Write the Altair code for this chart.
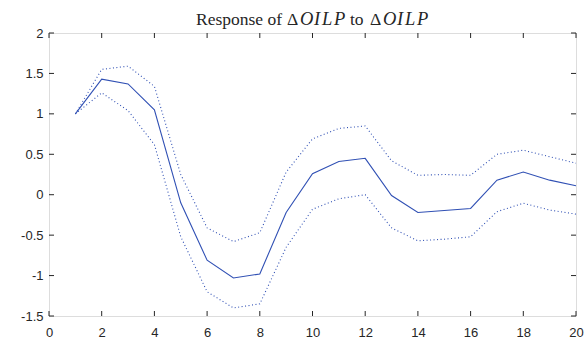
import altair as alt
import pandas as pd

horizon = list(range(1, 21))
response = [1.0, 1.43, 1.37, 1.05, -0.10, -0.81, -1.03, -0.98, -0.22, 0.26,
            0.41, 0.45, -0.01, -0.22, -0.195, -0.17, 0.18, 0.28, 0.18, 0.11]
upper = [1.0, 1.55, 1.59, 1.34, 0.25, -0.41, -0.58, -0.47, 0.28, 0.69,
         0.82, 0.85, 0.42, 0.24, 0.25, 0.24, 0.50, 0.55, 0.47, 0.39]
lower = [1.0, 1.26, 1.04, 0.62, -0.52, -1.20, -1.40, -1.35, -0.65, -0.18,
         -0.05, 0.0, -0.41, -0.57, -0.55, -0.52, -0.21, -0.105, -0.19, -0.24]
x_ticks = [0, 2, 4, 6, 8, 10, 12, 14, 16, 18, 20]
y_ticks = [-1.5, -1, -0.5, 0, 0.5, 1, 1.5, 2]

# title "Response of ΔOILP to ΔOILP", set piece by piece (math italic letters)
title_pieces = [("Response of", False), ("Δ", False),
                ("O", True), ("I", True), ("L", True), ("P", True),
                ("to", False), ("Δ", False),
                ("O", True), ("I", True), ("L", True), ("P", True)]
title_x = [147, 238, 251, 265, 273, 285, 301, 321, 334, 348, 356, 368]

W, H = 527, 283
BLUE = "#3050b4"
AX = "#262626"

df = pd.DataFrame({"h": horizon, "resp": response, "up": upper, "lo": lower})

xs = alt.Scale(domain=[0, 20], nice=False, zero=False)
ys = alt.Scale(domain=[-1.5, 2], nice=False, zero=False)

xaxis = alt.Axis(values=x_ticks, title=None, grid=False, domain=False, ticks=False,
                 labelFont="Liberation Sans", labelFontSize=13, labelColor=AX,
                 labelPadding=10, labelFlush=False)
yaxis = alt.Axis(values=y_ticks, title=None, grid=False, domain=False, ticks=False,
                 labelFont="Liberation Sans", labelFontSize=13, labelColor=AX,
                 labelPadding=6, labelFlush=False,
                 labelExpr="toString(datum.value)")

base = alt.Chart(df)
center = base.mark_line(color=BLUE, strokeWidth=1.1).encode(
    x=alt.X("h:Q", scale=xs, axis=xaxis), y=alt.Y("resp:Q", scale=ys, axis=yaxis))
up_line = base.mark_line(color=BLUE, strokeWidth=1.1, strokeDash=[1, 2.5]).encode(
    x=alt.X("h:Q", scale=xs), y=alt.Y("up:Q", scale=ys))
lo_line = base.mark_line(color=BLUE, strokeWidth=1.1, strokeDash=[1, 2.5]).encode(
    x=alt.X("h:Q", scale=xs), y=alt.Y("lo:Q", scale=ys))

xt = alt.Chart(pd.DataFrame({"t": x_ticks}))
yt = alt.Chart(pd.DataFrame({"t": y_ticks}))
tick_len = 5
xt_bottom = xt.mark_rule(color=AX, strokeWidth=1).encode(
    x=alt.X("t:Q", scale=xs), y=alt.value(H), y2=alt.value(H - tick_len))
xt_top = xt.mark_rule(color=AX, strokeWidth=1).encode(
    x=alt.X("t:Q", scale=xs), y=alt.value(0), y2=alt.value(tick_len))
yt_left = yt.mark_rule(color=AX, strokeWidth=1).encode(
    y=alt.Y("t:Q", scale=ys), x=alt.value(0), x2=alt.value(tick_len))
yt_right = yt.mark_rule(color=AX, strokeWidth=1).encode(
    y=alt.Y("t:Q", scale=ys), x=alt.value(W), x2=alt.value(W - tick_len))

title_layers = []
for (txt, ital), px in zip(title_pieces, title_x):
    if ital:
        mk = alt.Chart(pd.DataFrame({"s": [txt]})).mark_text(
            font="Liberation Serif", fontStyle="italic", fontSize=18.5, color=AX,
            align="left", baseline="alphabetic")
    else:
        mk = alt.Chart(pd.DataFrame({"s": [txt]})).mark_text(
            font="Liberation Serif", fontSize=17.5, color=AX,
            align="left", baseline="alphabetic")
    title_layers.append(mk.encode(x=alt.value(px), y=alt.value(-8), text="s:N"))

chart = alt.layer(
    center, up_line, lo_line, xt_bottom, xt_top, yt_left, yt_right, *title_layers
).properties(
    width=W, height=H,
    autosize=alt.AutoSizeParams(type="none"),
    padding={"left": 49, "top": 33, "right": 10, "bottom": 26},
).configure_view(
    stroke=AX, strokeWidth=1.2
).configure(background="white")

chart.save("out.html", embed_options={"renderer": "svg", "actions": False})
